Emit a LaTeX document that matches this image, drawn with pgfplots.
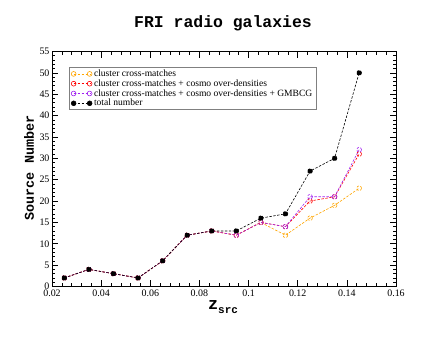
\documentclass[border=0pt]{standalone}
\usepackage{pgfplots}
\pgfplotsset{compat=1.18}
\usepackage{fontspec}
\setmainfont{Liberation Serif}
\newfontfamily\cour{Liberation Mono}
\definecolor{gorange}{RGB}{255,165,0}
\definecolor{gred}{RGB}{255,0,0}
\definecolor{gviolet}{RGB}{160,32,240}
\begin{document}
\begin{tikzpicture}
\path[use as bounding box] (0bp,0bp) rectangle (447bp,338bp);
\begin{axis}[
  at={(52bp,51.5bp)}, anchor=south west,
  scale only axis, width=344bp, height=235bp,
  xmin=0.02, xmax=0.16, ymin=0, ymax=55,
  xtick={0.02,0.04,0.06,0.08,0.1,0.12,0.14,0.16},
  xticklabels={0.02,0.04,0.06,0.08,0.1,0.12,0.14,0.16},
  ytick={0,5,...,55},
  minor x tick num=4, minor y tick num=4,
  tick align=inside, tick pos=both,
  major tick length=6bp, minor tick length=3bp,
  tick style={black, line width=0.6pt},
  axis line style={line width=0.8pt},
  /pgf/number format/assume math mode=true,
  tick label style={font=\fontsize{10}{10}\selectfont},
  yticklabel style={xshift=1bp},
  legend cell align=left,
  legend style={at={(0.049,0.934)}, anchor=north west,
    draw=gray, line width=0.8pt, inner xsep=2pt, inner ysep=2pt,
    font=\fontsize{9.6}{9.6}\selectfont, row sep=0.8bp,
    nodes={inner ysep=0pt, text height=7bp, text depth=2bp}},
  legend image code/.code={\draw[#1, line width=0.6pt, dash pattern=on 2.5pt off 1.5pt, mark options={solid}] plot coordinates {(0bp,0bp) (16bp,0bp)};},
  every axis plot/.append style={line width=0.6pt, dash pattern=on 2.5pt off 1.5pt},
]
\addplot[color=gorange, mark=o, mark size=2.4bp] coordinates {
(0.025,2) (0.035,4) (0.045,3) (0.055,2) (0.065,6) (0.075,12) (0.085,13) (0.095,12) (0.105,15) (0.115,12) (0.125,16) (0.135,19) (0.145,23)};
\addlegendentry{cluster cross-matches}
\addplot[color=gred, mark=o, mark size=2.4bp] coordinates {
(0.025,2) (0.035,4) (0.045,3) (0.055,2) (0.065,6) (0.075,12) (0.085,13) (0.095,12) (0.105,15) (0.115,14) (0.125,20) (0.135,21) (0.145,31)};
\addlegendentry{cluster cross-matches + cosmo over-densities}
\addplot[color=gviolet, mark=o, mark size=2.4bp] coordinates {
(0.025,2) (0.035,4) (0.045,3) (0.055,2) (0.065,6) (0.075,12) (0.085,13) (0.095,12) (0.105,15) (0.115,14) (0.125,21) (0.135,21) (0.145,32)};
\addlegendentry{cluster cross-matches + cosmo over-densities + GMBCG}
\addplot[color=black, mark=*, mark size=2.4bp] coordinates {
(0.025,2) (0.035,4) (0.045,3) (0.055,2) (0.065,6) (0.075,12) (0.085,13) (0.095,13) (0.105,16) (0.115,17) (0.125,27) (0.135,30) (0.145,50)};
\addlegendentry{total number}
\end{axis}
\node at (223bp,315bp) {\cour\bfseries\fontsize{16.5}{16.5}\selectfont FRI radio galaxies};
\node[anchor=base] at (223bp,29bp) {\cour\bfseries\fontsize{17}{17}\selectfont z\raisebox{-4bp}{\fontsize{11}{11}\selectfont src}};
\node[rotate=90] at (29bp,170bp) {\cour\bfseries\fontsize{13.5}{13.5}\selectfont Source Number};
\end{tikzpicture}
\end{document}
